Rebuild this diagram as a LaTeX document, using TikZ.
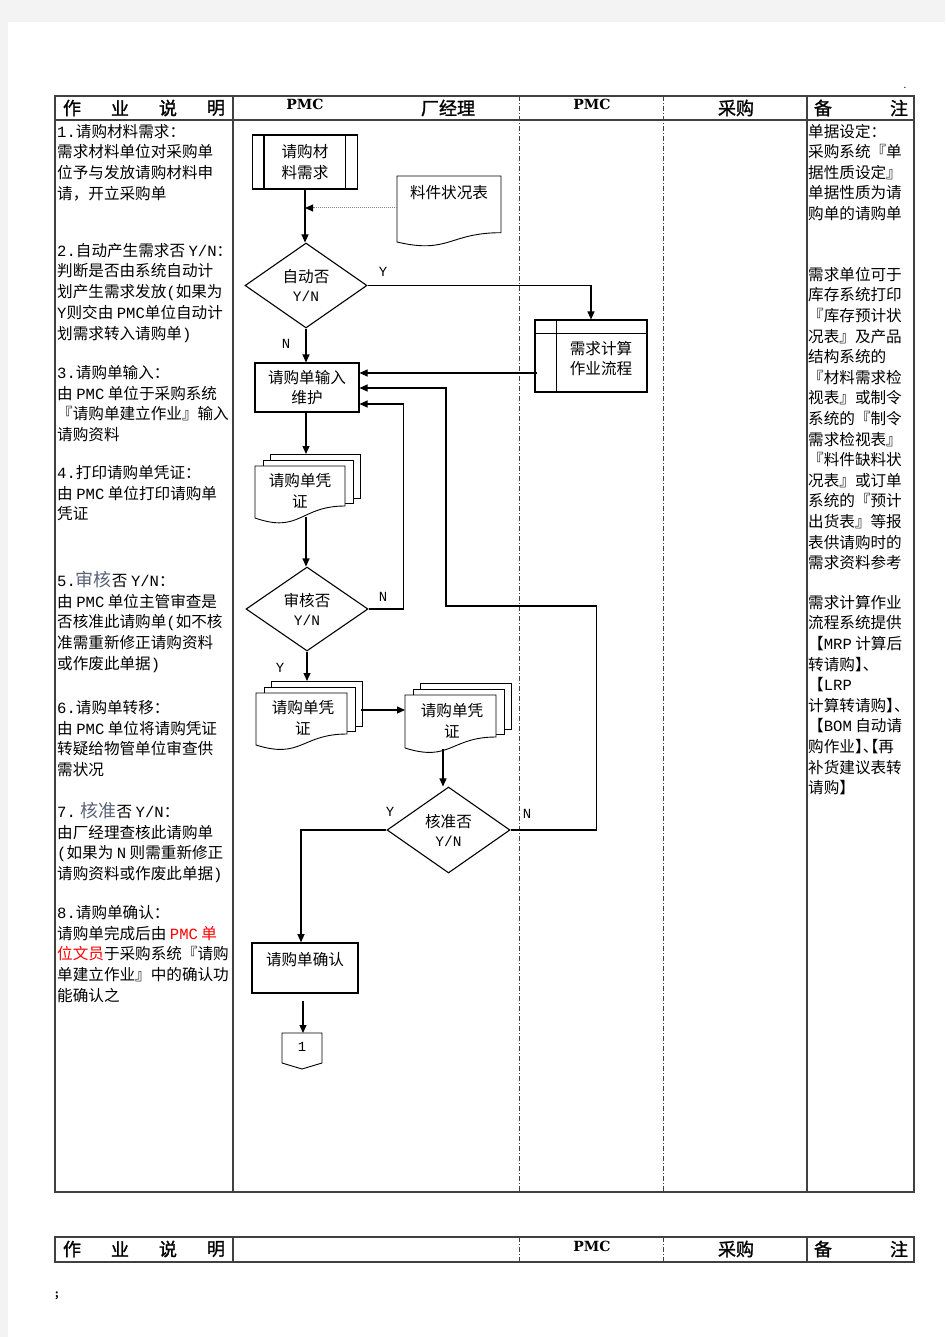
\documentclass[tikz,border=0pt]{standalone}
\usepackage{fontspec}
\setmainfont{Noto Sans CJK SC}
\newfontfamily\mono{Liberation Mono}
\newfontfamily\hdserif{DejaVu Serif}
\newfontfamily\hdcjk[FakeBold=1.3]{Noto Sans CJK SC}
\usetikzlibrary{arrows.meta,shapes.geometric,calc}
\definecolor{bggray}{HTML}{F3F3F3}
\definecolor{tline}{HTML}{404040}
\definecolor{hl}{HTML}{5A6478}
\newcommand\st{\rule{0pt}{16pt}}
\newcommand\m[1]{{\mono #1}}
\newcommand\yn[1]{{\mono\fontsize{14.5}{16}\selectfont #1}}
\newcommand\rbk{\makebox[7.8pt][l]{】}}
\newcommand\dun{\makebox[7.8pt][l]{、}}
\newcommand\lbk{\makebox[7.8pt][r]{【}}
\newcommand\mdoc[5]{%
  \draw[pg] ({#1+15},{#2-12}) rectangle ({#3+15},{#5-8});
  \draw[pg] ({#1+8},{#2-6}) rectangle ({#3+8},{#5-3});
  \draw[pg] (#1,#2) -- (#3,#2) -- (#3,#5) .. controls ({(#1+#3)/2},#5) and ({(#1+#3)/2},{#4+1.31*(#4-#5)}) .. (#1,#4) -- cycle;
}
\begin{document}
\begin{tikzpicture}[x=1pt,y=-1pt,
  txt/.style={anchor=north west, inner sep=0pt, align=left, font=\fontsize{15.6}{20.8}\selectfont},
  rtxt/.style={txt, font=\fontsize{15.6}{20.6}\selectfont},
  ctxt/.style={inner sep=0pt, align=center, font=\fontsize{15.6}{20.8}\selectfont},
  hd/.style={inner sep=0pt, font=\hdcjk\fontsize{18}{20}\selectfont},
  hpmc/.style={inner sep=0pt, font=\hdserif\bfseries\fontsize{14}{16}\selectfont},
  tab/.style={draw=tline, line width=1.2pt},
  dd/.style={draw=tline, line width=0.7pt, dash pattern=on 5pt off 2pt on 1pt off 2pt},
  fl/.style={draw=black, line width=1.1pt},
  pg/.style={fl, line width=0.9pt, fill=white},
  arr/.style={fl, -{Triangle[length=8pt,width=7pt]}},
  yn/.style={inner sep=0pt, font=\mono\fontsize{14}{16}\selectfont},
  boxn/.style={fl, rectangle, inner sep=0pt},
  dia/.style={fl, diamond, aspect=1.43, inner sep=0pt, minimum width=122pt, minimum height=85pt, align=center, font=\fontsize{15.6}{19}\selectfont},
]
% page background
\fill[bggray] (0,0) rectangle (945,1337);
\fill[white] (8,22) rectangle (945,1337);
\useasboundingbox (0,0) rectangle (945,1337);

% ---------- table 1 ----------
\draw[tab] (55,96) rectangle (914,1192);
\draw[tab] (55,120) -- (914,120);
\draw[tab] (233,96) -- (233,1192);
\draw[tab] (807,96) -- (807,1192);
\draw[dd] (519,96) -- (519,1192);
\draw[dd] (663,96) -- (663,1192);

\node[hd] (ha1) at (72,108) {作};
\node[hd] (ha2) at (120,108) {业};
\node[hd] (ha3) at (168,108) {说};
\node[hd] (ha4) at (216,108) {明};
\node[hpmc] (hb) at (305,104) {PMC};
\node[hd] (hc) at (448,108) {厂经理};
\node[hpmc] (hd1) at (592,104) {PMC};
\node[hd] (he) at (736,108) {采购};
\node[hd] (hf1) at (823,108) {备};
\node[hd] (hf2) at (899,108) {注};
\node[inner sep=0pt, font=\fontsize{10}{10}\selectfont] (dot) at (905,88) {.};

% ---------- left column ----------
\node[txt] (l1) at (57,121) {\st\m{1.}请购材料需求：\\需求材料单位对采购单\\位予与发放请购材料申\\请，开立采购单};
\node[txt] (l2) at (57,240) {\st\m{2.}自动产生需求否 \m{Y/N}：\\判断是否由系统自动计\\划产生需求发放\m{(}如果为\\\m{Y}则交由 \m{PMC}单位自动计\\划需求转入请购单\m{)}};
\node[txt] (l3) at (57,362) {\st\m{3.}请购单输入：\\由 \m{PMC} 单位于采购系统\\『请购单建立作业』输入\\请购资料};
\node[txt] (l4) at (57,462) {\st\m{4.}打印请购单凭证：\\由 \m{PMC} 单位打印请购单\\凭证};
\node[txt] (l5) at (57,570) {\st\m{5.}{\fontsize{18}{20}\selectfont\color{hl}审核}否 \m{Y/N}：\\由 \m{PMC} 单位主管审查是\\否核准此请购单\m{(}如不核\\准需重新修正请购资料\\或作废此单据\m{)}};
\node[txt] (l6) at (57,697) {\st\m{6.}请购单转移：\\由 \m{PMC} 单位将请购凭证\\转疑给物管单位审查供\\需状况};
\node[txt] (l7) at (57,801) {\st\m{7.} {\fontsize{18}{20}\selectfont\color{hl}核准}否 \m{Y/N}：\\由厂经理查核此请购单\\\m{(}如果为 \m{N} 则需重新修正\\请购资料或作废此单据\m{)}};
\node[txt] (l8) at (57,902) {\st\m{8.}请购单确认：\\请购单完成后由 {\color{red}\m{PMC} 单}\\{\color{red}位文员}于采购系统『请购\\单建立作业』中的确认功\\能确认之};

% ---------- right column ----------
\node[rtxt] (r1) at (808,121) {\st 单据设定：\\采购系统『单\\据性质设定』\\单据性质为请\\购单的请购单};
\node[rtxt] (r2) at (808,264) {\st 需求单位可于\\库存系统打印\\『库存预计状\\况表』及产品\\结构系统的\\『材料需求检\\视表』或制令\\系统的『制令\\需求检视表』\\『料件缺料状\\况表』或订单\\系统的『预计\\出货表』等报\\表供请购时的\\需求资料参考};
\node[rtxt] (r3) at (808,592) {\st 需求计算作业\\流程系统提供\\【\m{MRP} 计算后\\转请购\rbk\dun\\【\m{LRP}\\计算转请购\rbk\dun\\【\m{BOM} 自动请\\购作业\rbk\dun\lbk 再\\补货建议表转\\请购】};

% ---------- flowchart ----------
\node[boxn, ctxt, minimum width=105pt, minimum height=54pt] (n1) at (305,162) {请购材\\料需求};
\draw[fl] ([xshift=12pt]n1.north west) -- ([xshift=12pt]n1.south west);
\draw[fl] ([xshift=-13pt]n1.north east) -- ([xshift=-13pt]n1.south east);

\draw[pg] (397,176) -- (501,176) -- (501,232.7) .. controls (449,232.7) and (449,254.3) .. (397,242) -- cycle;
\node[ctxt] (d1t) at (449,193) {料件状况表};
\coordinate (d1w) at (397,208);

\node[dia] (dia1) at (306,285.5) {自动否\\\yn{Y/N}};
\draw[arr] (n1.south) -- (n1.south |- dia1.north);
\draw[densely dotted, line width=1pt, draw=gray, -{Triangle[length=8pt,width=7pt,color=black]}] (d1w) -- (d1w -| n1.south);

\node[boxn, minimum width=112pt, minimum height=72pt] (calc) at (591,356) {};
\draw[fl] ([yshift=-14pt]calc.north west) -- ([yshift=-14pt]calc.north east);
\draw[fl] ([xshift=22pt]calc.north west) -- ([xshift=22pt]calc.south west);
\node[ctxt] (calct) at (601,358.5) {需求计算\\作业流程};
\node[yn] (y1) at (383,272) {Y};
\draw[arr] (dia1.east) -| (calc.north);

\node[boxn, ctxt, minimum width=104pt, minimum height=49pt] (n3) at (307,387.5) {请购单输入\\维护};
\node[yn] (n1l) at (286,344) {N};
\draw[arr] (dia1.south) -- (dia1.south |- n3.north);
\path ([xshift=3pt,yshift=-17pt]calc.west) coordinate (c1);
\draw[arr] (c1) -- (c1 -| n3.east);

% multi-document 1
\mdoc{255}{466}{345}{518}{506}
\node[ctxt] (md1t) at (300,491) {请购单凭\\证};
\coordinate (md1top) at (306,454);
\coordinate (md1bot) at (306,517);
\draw[arr] (n3.south -| md1top) -- (md1top);

\node[dia, minimum height=84pt] (dia2) at (307,609) {审核否\\\yn{Y/N}};
\draw[arr] (md1bot) -- (md1bot |- dia2.north);
\node[yn] (n2l) at (383,597) {N};
\draw[arr] (dia2.east) -- ++(35,0) |- (n3.east |- 0,404);
\node[yn] (y2l) at (280,668) {Y};

% multi-document 2 and 3
\mdoc{256}{693}{347}{745}{734}
\node[ctxt] (md2t) at (303,717.5) {请购单凭\\证};
\coordinate (md2top) at (307,681);
\coordinate (md2r) at (361,710);
\draw[arr] (dia2.south) -- (dia2.south |- md2top);

\mdoc{405}{695}{496}{748}{737}
\node[ctxt] (md3t) at (452,720.5) {请购单凭\\证};
\coordinate (md3l) at (405,710);
\coordinate (md3bot) at (443,749);
\draw[arr] (md2r) -- (md3l);

\node[dia, minimum width=123pt, minimum height=86pt] (dia3) at (448.5,830) {核准否\\\yn{Y/N}};
\draw[arr] (md3bot) -- (md3bot |- dia3.north);
\node[yn] (y3l) at (390,812) {Y};
\node[yn] (n3l) at (527,814) {N};
\draw[arr] (dia3.east) -- ++(86,0) |- (446,606) -- (446,388) -- (n3.east |- 0,388);

\node[boxn, line width=1.6pt, minimum width=106pt, minimum height=50pt] (n8) at (305,968) {};
\node[ctxt] (n8t) at (305,960) {请购单确认};
\draw[arr] (dia3.west) -| ([xshift=-4pt]n8.north);

\draw[pg] (282,1033) -- (322,1033) -- (322,1063) -- (302,1069) -- (282,1063) -- cycle;
\coordinate (conntop) at (303,1033);
\node[yn] (c1t) at (302,1047) {1};
\draw[arr] ([xshift=-2pt,yshift=-7pt]n8.south) -- (conntop);

% ---------- table 2 ----------
\draw[tab] (55,1237) rectangle (914,1262);
\draw[tab] (233,1237) -- (233,1262);
\draw[tab] (807,1237) -- (807,1262);
\draw[dd] (519,1237) -- (519,1262);
\draw[dd] (663,1237) -- (663,1262);
\node[hd] (hb1) at (72,1249) {作};
\node[hd] (hb2) at (120,1249) {业};
\node[hd] (hb3) at (168,1249) {说};
\node[hd] (hb4) at (216,1249) {明};
\node[hpmc] (hb5) at (592,1246) {PMC};
\node[hd] (hb6) at (736,1249) {采购};
\node[hd] (hb7) at (823,1249) {备};
\node[hd] (hb8) at (899,1249) {注};
\node[inner sep=0pt, font=\bfseries\fontsize{10}{10}\selectfont] (semi) at (57,1296) {;};
\end{tikzpicture}
\end{document}
